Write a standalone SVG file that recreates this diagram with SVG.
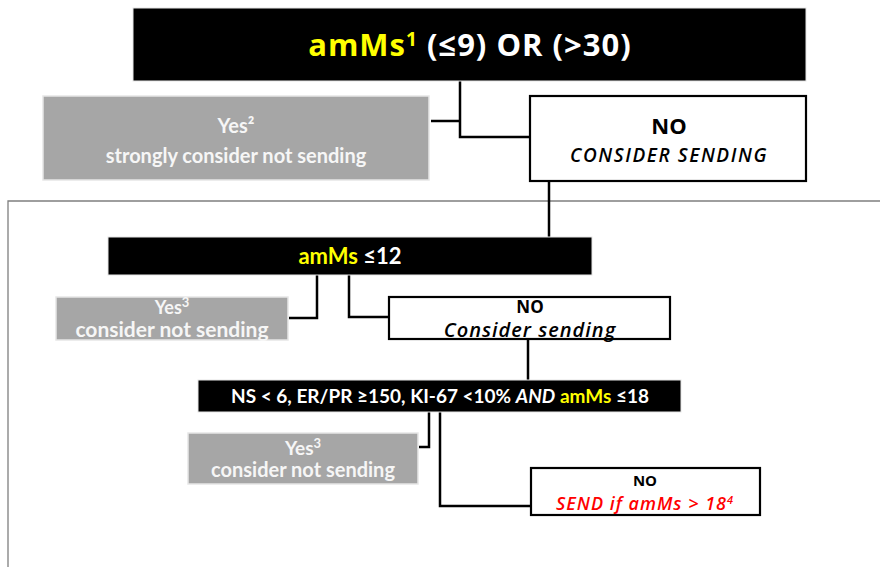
<svg xmlns="http://www.w3.org/2000/svg" width="880" height="567" viewBox="0 0 880 567">
<style>
.blk{fill:#000;stroke:#e6e6e6;stroke-width:1}
.gry{fill:#a6a6a6;stroke:#e6e6e6;stroke-width:1.5}
.wht{fill:#fff;stroke:#000;stroke-width:2.2}
.con{fill:none;stroke:#000;stroke-width:2.5}
.frame{fill:none;stroke:#7f7f7f;stroke-width:1.3}
.os{font-family:"Open Sans","DejaVu Sans",sans-serif;font-weight:bold;text-anchor:middle}
.la{font-family:Lato,"Liberation Sans",sans-serif;font-weight:bold;text-anchor:middle}
.it{font-family:"Open Sans","DejaVu Sans",sans-serif;font-style:italic;font-weight:600;text-anchor:middle}
.y{fill:#ffff00}
.w{fill:#ffffff}
.g{fill:#f6f6f6}
</style>
<g id="frame"><path class="frame" d="M880,201 H8 V567"/></g>
<g id="connectors">
<path class="con" d="M460,81 V137 H530"/>
<path class="con" d="M431,121 H460"/>
<path class="con" d="M549,181 V237"/>
<path class="con" d="M317,275 V318 H289"/>
<path class="con" d="M349,275 V317 H389"/>
<path class="con" d="M528,339 V380"/>
<path class="con" d="M429,412 V447 H419"/>
<path class="con" d="M440,412 V506 H531"/>
</g>
<g id="n1">
<rect class="blk" x="133" y="8" width="673" height="73"/>
<text class="os w" x="470" y="56" font-size="31" letter-spacing="1"><tspan class="y">amMs<tspan font-size="19" dy="-10">1</tspan></tspan><tspan dy="10"> (≤9) OR (&gt;30)</tspan></text>
</g>
<g id="n2">
<rect class="gry" x="43" y="96" width="386" height="84"/>
<text class="la g" x="236" y="133" font-size="20">Yes²</text>
<text class="la g" x="236" y="163" font-size="20">strongly consider not sending</text>
</g>
<g id="n3">
<rect class="wht" x="530" y="96" width="276" height="85"/>
<text class="os" x="669" y="134" font-size="22">NO</text>
<text class="it" x="669" y="162" font-size="19" letter-spacing="1.6">CONSIDER SENDING</text>
</g>
<g id="n4">
<rect class="blk" x="108" y="237" width="484" height="38"/>
<text class="la w" x="350" y="264" font-size="22"><tspan class="y">amMs</tspan> ≤12</text>
</g>
<g id="n5">
<rect class="gry" x="56" y="297" width="232" height="43"/>
<text class="la g" x="172" y="314" font-size="18">Yes<tspan font-size="13" dy="-7">3</tspan></text>
<text class="la g" x="172" y="337" font-size="21">consider not sending</text>
</g>
<g id="n6">
<rect class="wht" x="389" y="297" width="281" height="42"/>
<text class="os" x="530" y="313" font-size="17">NO</text>
<text class="it" x="530" y="337" font-size="20" letter-spacing="1">Consider sending</text>
</g>
<g id="n7">
<rect class="blk" x="198" y="380" width="483" height="32"/>
<text class="la w" x="440" y="403" font-size="19">NS &lt; 6, ER/PR ≥150, KI-67 &lt;10% <tspan font-style="italic">AND</tspan> <tspan class="y">amMs</tspan> ≤18</text>
</g>
<g id="n8">
<rect class="gry" x="188" y="433" width="230" height="51"/>
<text class="la g" x="303" y="455" font-size="19">Yes<tspan font-size="13" dy="-7">3</tspan></text>
<text class="la g" x="303" y="477" font-size="20">consider not sending</text>
</g>
<g id="n9">
<rect class="wht" x="531" y="468" width="229" height="47"/>
<text class="os" x="645" y="486" font-size="15">NO</text>
<text class="it" x="645" y="510" font-size="18" letter-spacing="1" fill="#ff0000">SEND if amMs &gt; 18<tspan font-size="11" dy="-6">4</tspan></text>
</g>
</svg>
